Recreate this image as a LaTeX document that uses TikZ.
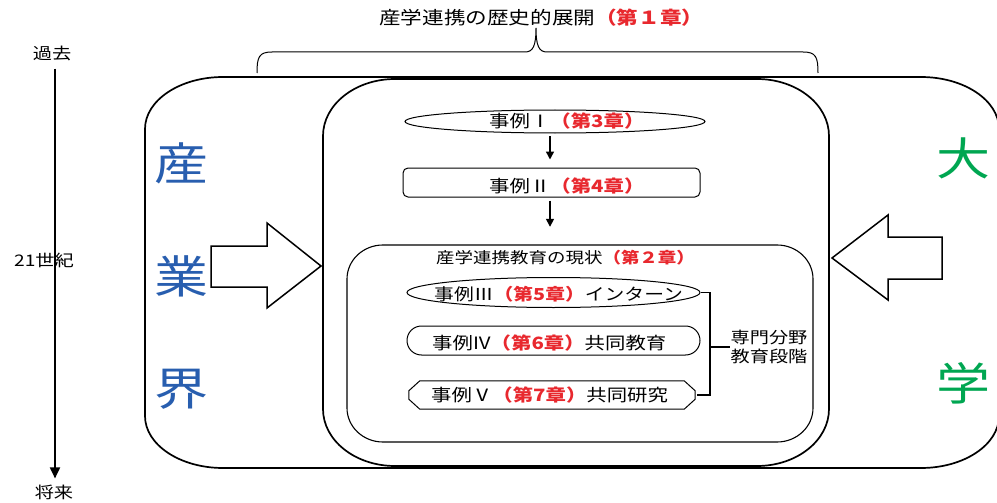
\documentclass[tikz,border=0pt]{standalone}
\usepackage{fontspec}
\setmainfont{Noto Sans CJK JP}[FakeStretch=1.2]
\usetikzlibrary{shapes.geometric,arrows.meta}
\definecolor{chred}{RGB}{232,40,46}
\definecolor{indblue}{RGB}{40,94,175}
\definecolor{unigreen}{RGB}{0,166,81}
\newcommand\chap[1]{\textcolor{chred}{\textbf{#1}}}
% elliptical-cornered box: #1 style, #2 left, #3 top, #4 right, #5 bottom, #6 rx, #7 ry
\newcommand\ebox[7]{%
  \draw[#1] ({#2+#6},#3) -- ({#4-#6},#3)
    .. controls ({#4-0.448*#6},#3) and (#4,{#3+0.448*#7}) .. (#4,{#3+#7})
    -- (#4,{#5-#7})
    .. controls (#4,{#5-0.448*#7}) and ({#4-0.448*#6},#5) .. ({#4-#6},#5)
    -- ({#2+#6},#5)
    .. controls ({#2+0.448*#6},#5) and (#2,{#5-0.448*#7}) .. (#2,{#5-#7})
    -- (#2,{#3+#7})
    .. controls (#2,{#3+0.448*#7}) and ({#2+0.448*#6},#3) .. ({#2+#6},#3) -- cycle;}
\begin{document}
\begin{tikzpicture}[x=1pt,y=-1pt,
  region/.style={draw=none,inner sep=0pt},
  bigline/.style={draw=black,line width=1.7pt},
  midline/.style={draw=black,line width=1.1pt},
  shapeline/.style={draw=black,line width=1pt},
  caseell/.style={ellipse,draw=black,line width=1pt,inner sep=0pt},
  casebox/.style={rectangle,draw=black,line width=1pt,rounded corners=5pt,inner sep=0pt},
  casestad/.style={rectangle,draw=black,line width=1pt,rounded corners=14.5pt,inner sep=0pt},
  casetext/.style={anchor=west,inner sep=0pt,font=\fontsize{17}{19}\selectfont},
  flowarrow/.style={draw=black,line width=1.5pt,-{Triangle[width=8pt,length=8pt]}},
  timearrow/.style={draw=black,line width=1.8pt,-{Triangle[width=10pt,length=11pt]}},
  blockarrow/.style={draw=black,line width=1.5pt,fill=white,line join=miter},
  bracket/.style={draw=black,line width=1.5pt},
  brace/.style={draw=black,line width=1pt},
  timetext/.style={inner sep=0pt,font=\fontsize{16}{18}\selectfont},
  bigind/.style={inner sep=0pt,text=indblue,font=\fontsize{45}{48}\selectfont},
  biguni/.style={inner sep=0pt,text=unigreen,font=\fontsize{45}{48}\selectfont}]
\useasboundingbox (0,0) rectangle (997,503);
\clip (0,0) rectangle (997,503);

% title and brace
\node[anchor=west,inner sep=0pt,font=\fontsize{18}{20}\selectfont] (title) at (379,18) {産学連携の歴史的展開\chap{（第１章）}};
\draw[brace] (257,73) .. controls (257,57) and (259,52) .. (272,52) -- (525,52)
  .. controls (533,52) and (536,46) .. (536,28)
  .. controls (536,46) and (539,52) .. (547,52) -- (803,52)
  .. controls (816,52) and (818,57) .. (818,73);

% timeline
\node[timetext] (past) at (52,53) {過去};
\node[timetext] (future) at (54,492) {将来};
\coordinate (tl) at (55,0);
\draw[timearrow,shorten <=8pt,shorten >=6pt] (past.south -| tl) -- (future.north -| tl);
\node[timetext] (c21) at (44,260) {21世紀};

% region boxes
\node[region,minimum width=852,minimum height=391] (outer) at (571,272.5) {};
\ebox{bigline}{145}{77}{999}{468}{78}{52}
\node[region,minimum width=506,minimum height=387] (inner) at (576,272.5) {};
\ebox{bigline}{323}{79}{829}{466}{72}{57}
\node[region,minimum width=466,minimum height=197] (now) at (580,343.5) {};
\ebox{midline}{347}{245}{813}{442}{36}{34}

% industry / university labels
\node[bigind] (ind1) at (181,163) {産};
\node[bigind] (ind2) at (181,276) {業};
\node[bigind] (ind3) at (181,389) {界};
\node[biguni] (uni1) at (963,158) {大};
\node[biguni] (uni2) at (963,383) {学};

% block arrows
\draw[blockarrow] (211,246) -- (267,246) -- (267,223) -- (321,266) -- (267,308) -- (267,287) -- (211,287) -- cycle;
\draw[blockarrow] (942,237) -- (888,237) -- (888,215) -- (832,258) -- (888,300) -- (888,279) -- (942,279) -- cycle;

% historical cases
\node[caseell,minimum width=300,minimum height=23] (c1) at (555,121.5) {};
\node[casetext] (c1t) at (489,121) {事例Ⅰ\chap{（第3章）}};
\node[casebox,minimum width=297,minimum height=29] (c2) at (551.5,182.5) {};
\node[casetext] (c2t) at (489,186) {事例Ⅱ\chap{（第4章）}};
\coordinate (ax) at (550,0);
\draw[flowarrow,shorten <=2.5pt,shorten >=8pt] (c1.south -| ax) -- (c2.north -| ax);
\draw[flowarrow,shorten <=3pt,shorten >=18pt] (c2.south -| ax) -- (now.north -| ax);

% current state
\node[anchor=west,inner sep=0pt,font=\fontsize{15.4}{17}\selectfont] (nowt) at (436,258) {産学連携教育の現状\chap{（第２章）}};
\node[caseell,minimum width=293,minimum height=30] (c3) at (553.5,292.5) {};
\node[casetext,font=\fontsize{16.5}{19}\selectfont] (c3t) at (434,294.5) {事例Ⅲ\chap{（第5章）}インターン};
\node[casestad,minimum width=293,minimum height=29] (c4) at (553.5,340.5) {};
\node[casetext] (c4t) at (432,343) {事例IV\chap{（第6章）}共同教育};
\node[region,minimum width=286,minimum height=28] (c5) at (552,395) {};
\draw[shapeline] ([xshift=11pt]c5.north west) -- ([xshift=-11pt]c5.north east) -- ([yshift=-10pt]c5.north east) -- ([yshift=10pt]c5.south east) -- ([xshift=-11pt]c5.south east) -- ([xshift=11pt]c5.south west) -- ([yshift=10pt]c5.south west) -- ([yshift=-10pt]c5.north west) -- cycle;
\node[casetext] (c5t) at (431,395) {事例Ⅴ\chap{（第7章）}共同研究};

% bracket
\coordinate (bx) at (710,0);
\draw[bracket] (c3.east) -- (c3.east -| bx) -- (bx |- c5.east) -- ([xshift=2pt]c5.east);
\node[inner sep=0pt,align=center,font=\fontsize{16}{19}\selectfont] (field) at (769,347) {専門分野\\教育段階};
\draw[bracket] (bx |- field) -- (field.west);
\end{tikzpicture}
\end{document}
